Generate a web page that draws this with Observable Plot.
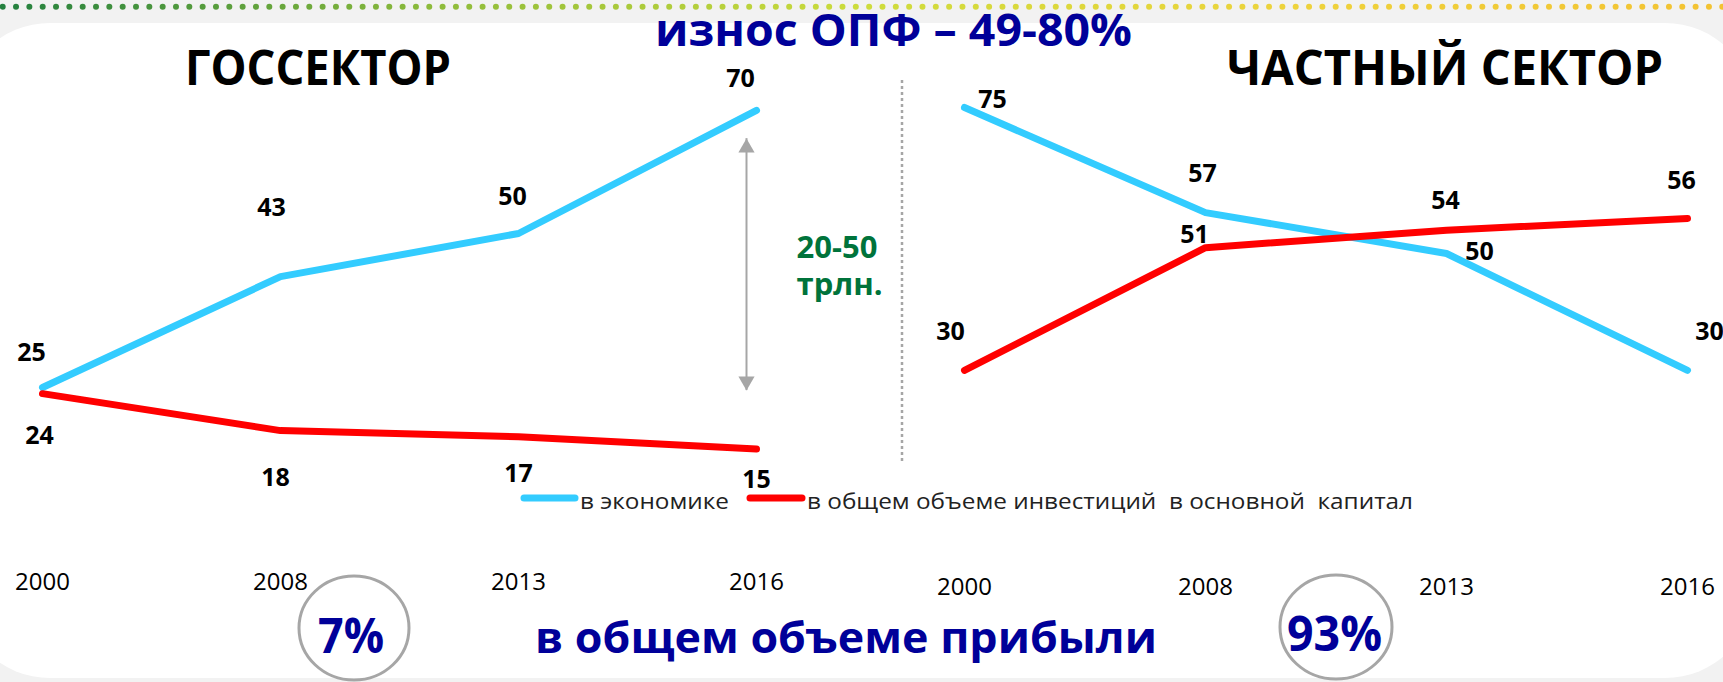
<!DOCTYPE html>
<html><head><meta charset="utf-8">
<script src="https://cdn.jsdelivr.net/npm/d3@7"></script>
<script src="https://cdn.jsdelivr.net/npm/@observablehq/plot@0.6"></script>
<style>
html,body{margin:0;padding:0;background:#f2f2f2;}
#wrap{position:relative;width:1723px;height:682px;overflow:hidden;font-family:"Open Sans",sans-serif;}
#wrap svg{position:absolute;left:0;top:0;}
.pre{white-space:pre;}
</style></head>
<body><div id="wrap"></div>
<script>
// ---- data ----
const years = ["2000", "2008", "2013", "2016"];
const govEconomy = [25, 43, 50, 70];
const govInvest = [24, 18, 17, 15];
const privEconomy = [75, 57, 50, 30];
const privInvest = [30, 51, 54, 56];
const seriesNames = ["в экономике", "в общем объеме инвестиций  в основной  капитал"];
const panelTitles = ["ГОССЕКТОР", "ЧАСТНЫЙ СЕКТОР"];
const headline = "износ ОПФ – 49-80%";
const profitText = "в общем объеме прибыли";
const profitShares = ["7%", "93%"];
const gapText = "20-50\nтрлн.";
const gapRange = [24.5, 65.4];

// ---- layout (styling only) ----
const W = 1723, H = 682;
const BLUE = "#33ccff", RED = "#ff0000";
const nudgeGov = {e: [[-11,-35],[-9,-69],[-6,-37],[-16,-31]], r: [[-3,42],[-5,47],[0,37],[0,31]]};
const nudgePriv = {e: [[28,-8],[-3,-39],[33,-2],[22,-38]], r: [[-14,-38],[-11,-13],[-1,-29],[-6,-37]]};

const wrap = document.getElementById("wrap");
const NS = "http://www.w3.org/2000/svg";
function el(tag, attrs, parent, text) {
  const e = document.createElementNS(NS, tag);
  for (const k in attrs) e.setAttribute(k, attrs[k]);
  if (text != null) e.textContent = text;
  parent.appendChild(e);
  return e;
}

// ---- background / decoration ----
const bg = el("svg", {width: W, height: H, viewBox: `0 0 ${W} ${H}`}, wrap);
el("rect", {x: 0, y: 0, width: W, height: H, fill: "#f2f2f2"}, bg);
el("rect", {x: -40, y: 23, width: 1795, height: 655, rx: 90, ry: 90, fill: "#ffffff"}, bg);
const dotColor = d3.piecewise(d3.interpolateRgb, ["#23803f", "#8dbb3b", "#cddc3c", "#eed33c", "#f3c232"]);
for (let x = 2.7; x < W; x += 13.33) el("circle", {cx: x, cy: 6.7, r: 3, fill: dotColor(x / W)}, bg);
el("line", {x1: 902, x2: 902, y1: 80, y2: 464, stroke: "#a6a6a6", "stroke-width": 2.5, "stroke-dasharray": "3 3"}, bg);

const bold = {"font-family": "Open Sans", "font-weight": 700, "lengthAdjust": "spacingAndGlyphs"};
el("text", {...bold, x: 655, y: 46, "font-size": 44, fill: "#000099", textLength: 477}, bg, headline);
el("text", {...bold, x: 185, y: 85, "font-size": 48, fill: "#000", textLength: 266}, bg, panelTitles[0]);
el("text", {...bold, x: 1227, y: 85, "font-size": 48, fill: "#000", textLength: 436}, bg, panelTitles[1]);
el("text", {...bold, x: 535, y: 653, "font-size": 43, fill: "#000099", textLength: 622}, bg, profitText);
el("ellipse", {cx: 354, cy: 628, rx: 55, ry: 52, fill: "none", stroke: "#a6a6a6", "stroke-width": 3}, bg);
el("ellipse", {cx: 1336, cy: 627, rx: 56, ry: 52, fill: "none", stroke: "#a6a6a6", "stroke-width": 3}, bg);
el("text", {...bold, x: 318, y: 653, "font-size": 48, fill: "#000099", textLength: 66}, bg, profitShares[0]);
el("text", {...bold, x: 1287, y: 651, "font-size": 48, fill: "#000099", textLength: 95}, bg, profitShares[1]);

// legend
el("line", {x1: 524, x2: 575, y1: 498, y2: 498, stroke: BLUE, "stroke-width": 7, "stroke-linecap": "round"}, bg);
el("text", {x: 580, y: 509, "font-family": "Open Sans", "font-size": 22, fill: "#222", textLength: 149, lengthAdjust: "spacingAndGlyphs"}, bg, seriesNames[0]);
el("line", {x1: 750, x2: 802, y1: 498, y2: 498, stroke: RED, "stroke-width": 7, "stroke-linecap": "round"}, bg);
el("text", {x: 807, y: 509, "font-family": "Open Sans", "font-size": 22, fill: "#222", textLength: 606, lengthAdjust: "spacingAndGlyphs", class: "pre"}, bg, seriesNames[1]);

// ---- panels ----
function panel({economy, invest, xRange, yRange, marginBottom, nudge, extras}) {
  const rows = [];
  years.forEach((year, i) => rows.push({year, value: economy[i], series: seriesNames[0], k: "e", i}));
  years.forEach((year, i) => rows.push({year, value: invest[i], series: seriesNames[1], k: "r", i}));
  const labels = rows.map(d => Plot.text([d], {
    x: "year", y: "value", text: r => String(r.value),
    dx: nudge[d.k][d.i][0], dy: nudge[d.k][d.i][1],
    fontSize: 25, fontWeight: "bold", fill: "#000"
  }));
  return Plot.plot({
    width: W, height: H,
    marginTop: 0, marginLeft: 0, marginRight: 0, marginBottom,
    x: {type: "point", domain: years, range: xRange, padding: 0},
    y: {domain: [0, 80], range: yRange, axis: null},
    color: {domain: seriesNames, range: [BLUE, RED]},
    style: {background: "transparent", fontFamily: "Open Sans", fontSize: "24px", color: "#000", overflow: "visible"},
    marks: [
      Plot.axisX({tickSize: 0, tickPadding: 0, label: null, fontSize: 24}),
      Plot.line(rows, {x: "year", y: "value", z: "series", stroke: "series", strokeWidth: 7, strokeLinecap: "round", strokeLinejoin: "round"}),
      ...labels,
      ...(extras || [])
    ]
  });
}

const gap = [{year: years[3], lo: gapRange[0], hi: gapRange[1]}];
const gapMarks = [
  Plot.ruleX(gap, {x: "year", y1: "lo", y2: "hi", dx: -10, stroke: "#a6a6a6", strokeWidth: 2}),
  Plot.dot(gap, {x: "year", y: "hi", dx: -10, dy: 9.3, symbol: "triangle", r: 6, fill: "#a6a6a6", stroke: null}),
  Plot.dot(gap, {x: "year", y: "lo", dx: -10, dy: -9.3, symbol: "triangle", r: 6, rotate: 180, fill: "#a6a6a6", stroke: null}),
  Plot.text(gap, {x: "year", y: () => 44.9, text: () => gapText, dx: 40, textAnchor: "start", lineHeight: 1.19, fontSize: 31, fontWeight: "bold", fill: "#00733b"})
];

wrap.appendChild(panel({economy: govEconomy, invest: govInvest, xRange: [41, 756], yRange: [541, 48.2], marginBottom: 110, nudge: nudgeGov, extras: gapMarks}));
wrap.appendChild(panel({economy: privEconomy, invest: privInvest, xRange: [963, 1687], yRange: [545, 77.8], marginBottom: 105, nudge: nudgePriv}));
</script>
</body></html>
